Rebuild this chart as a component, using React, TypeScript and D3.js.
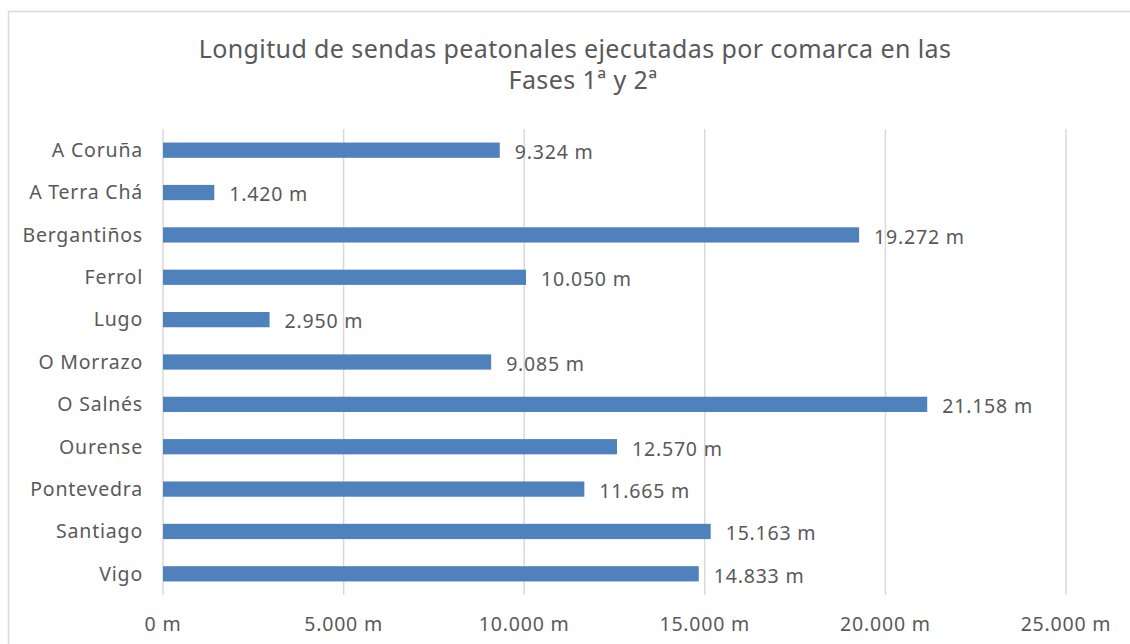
import React from "react";
import * as d3 from "d3";

const categories = ["A Coruña", "A Terra Chá", "Bergantiños", "Ferrol", "Lugo", "O Morrazo", "O Salnés", "Ourense", "Pontevedra", "Santiago", "Vigo"];
const values = [9324, 1420, 19272, 10050, 2950, 9085, 21158, 12570, 11665, 15163, 14833];
const xTicks = [0, 5000, 10000, 15000, 20000, 25000];
const titleLines = ["Longitud de sendas peatonales ejecutadas por comarca en las", "Fases 1ª y 2ª"];

const W = 1130, H = 644;
const FONT = "'Noto Sans', 'Open Sans', sans-serif";
const TEXT = "#595959";
const LS = 0.8;

const esFormat = d3.formatLocale({ decimal: ",", thousands: ".", grouping: [3], currency: ["", " €"] }).format(",.0f");
const fmt = (v: number) => `${esFormat(v)} m`;

export default function App() {
  const x = d3.scaleLinear().domain([0, 25000]).range([163, 1066]);
  const y = d3.scaleBand<string>().domain(categories).range([129, 595]).paddingInner(0.64).paddingOuter(0.32);
  return (
    <svg width={W} height={H} style={{ position: "absolute", left: 0, top: 0, background: "#fff" }} fontFamily={FONT}>
      <rect x={8.5} y={11.5} width={1140} height={660} fill="#fff" stroke="#d9d9d9" strokeWidth={1.5} />
      {titleLines.map((t, i) => (
        <text key={i} x={i === 0 ? 575 : 583} y={58 + i * 31} textAnchor="middle" fontSize={25} letterSpacing={0.4} fill={TEXT}>{t}</text>
      ))}
      {xTicks.map((t) => (
        <g key={t}>
          <line x1={x(t)} x2={x(t)} y1={129} y2={595} stroke="#d9d9d9" strokeWidth={1.5} />
          <text x={x(t)} y={631} textAnchor="middle" fontSize={19.5} letterSpacing={LS} fill={TEXT}>{fmt(t)}</text>
        </g>
      ))}
      {categories.map((c, i) => {
        const yy = y(c)!;
        const bw = y.bandwidth();
        return (
          <g key={c}>
            <rect x={x(0)} y={yy} width={x(values[i]) - x(0)} height={bw} fill="#4F81BD" />
            <text x={143} y={yy + bw / 2} dy="0.35em" textAnchor="end" fontSize={19.5} letterSpacing={LS} fill={TEXT}>{c}</text>
            <text x={x(values[i]) + 15} y={yy + bw / 2 + 2} dy="0.35em" textAnchor="start" fontSize={19.5} letterSpacing={LS} fill={TEXT}>{fmt(values[i])}</text>
          </g>
        );
      })}
    </svg>
  );
}
